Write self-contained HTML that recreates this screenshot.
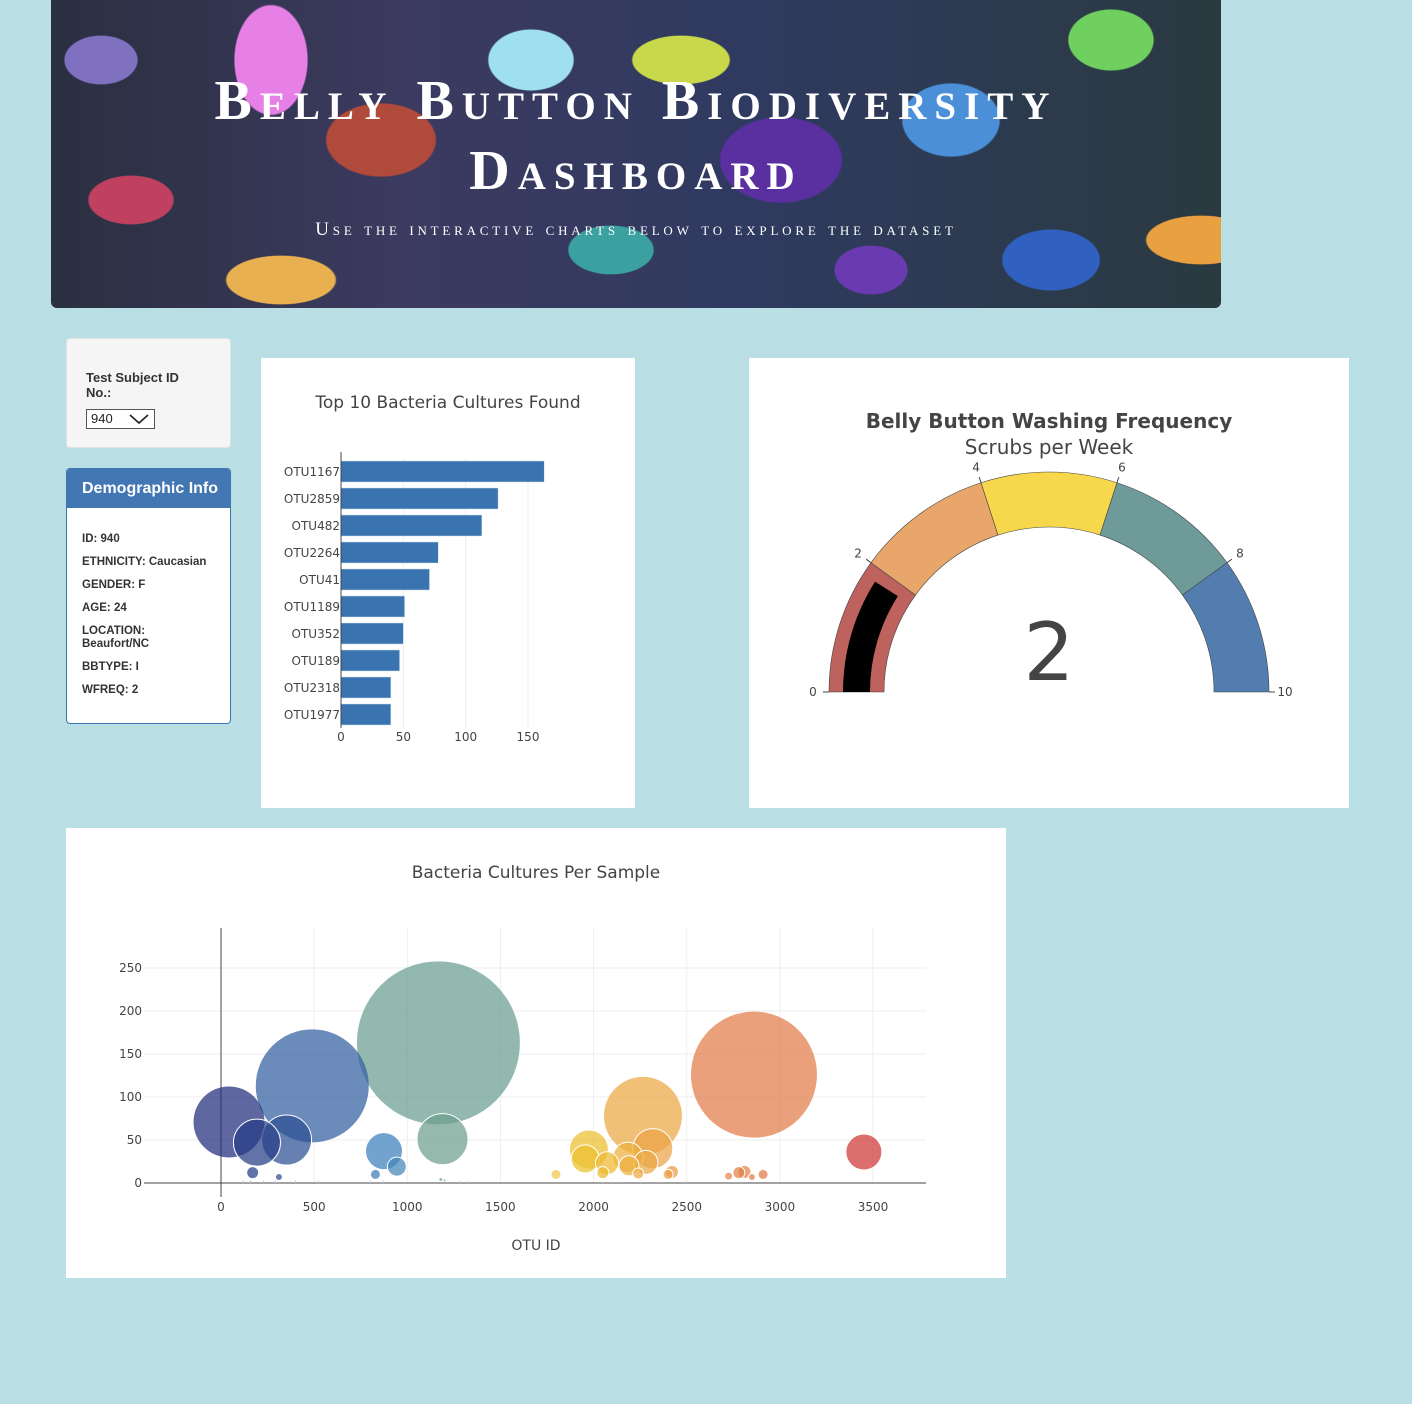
<!DOCTYPE html>
<html><head><meta charset="utf-8">
<style>
body{margin:0;width:1412px;height:1404px;background:#b9dfe4;font-family:"Liberation Sans",sans-serif;position:relative;overflow:hidden}
.abs{position:absolute}
#hdr{left:51px;top:0;width:1170px;height:308px;border-radius:0 0 6px 6px;overflow:hidden;
background:
radial-gradient(ellipse 60px 90px at 220px 60px,#e67fe6 60%,transparent 62%),
radial-gradient(ellipse 80px 40px at 630px 60px,#c9d84a 60%,transparent 62%),
radial-gradient(ellipse 70px 50px at 1060px 40px,#6fcf5f 60%,transparent 62%),
radial-gradient(ellipse 90px 60px at 330px 140px,#b04a3a 60%,transparent 62%),
radial-gradient(ellipse 100px 70px at 730px 160px,#5a2fa0 60%,transparent 62%),
radial-gradient(ellipse 70px 50px at 480px 60px,#9fe0f0 60%,transparent 62%),
radial-gradient(ellipse 80px 60px at 900px 120px,#4a8fd8 60%,transparent 62%),
radial-gradient(ellipse 90px 40px at 1150px 240px,#e8a040 60%,transparent 62%),
radial-gradient(ellipse 90px 40px at 230px 280px,#e8b050 60%,transparent 62%),
radial-gradient(ellipse 60px 40px at 50px 60px,#8070c0 60%,transparent 62%),
radial-gradient(ellipse 70px 40px at 80px 200px,#c04060 60%,transparent 62%),
radial-gradient(ellipse 80px 50px at 1000px 260px,#3060c0 60%,transparent 62%),
radial-gradient(ellipse 70px 40px at 560px 250px,#3aa0a0 60%,transparent 62%),
radial-gradient(ellipse 60px 40px at 820px 270px,#6a3ab0 60%,transparent 62%),
linear-gradient(90deg,#2a3040,#3c3a60 30%,#2f3a60 60%,#2a3a40);}
#hdr h1{margin:0;position:absolute;left:0;width:1170px;top:66px;text-align:center;color:#fff;font-family:"Liberation Serif",serif;font-variant:small-caps;font-size:56px;letter-spacing:8px;line-height:70px;font-weight:bold}
#hdr p{margin:0;position:absolute;left:0;width:1170px;top:219px;text-align:center;color:#fff;font-family:"Liberation Serif",serif;font-variant:small-caps;font-size:19px;letter-spacing:3.8px}
.card{background:#fff}
.t{font-family:"DejaVu Sans","Liberation Sans",sans-serif;fill:#444}
</style></head><body>
<div id="hdr" class="abs">
<h1>Belly Button Biodiversity<br>Dashboard</h1>
<p>Use the interactive charts below to explore the dataset</p>
</div>

<div class="abs" style="left:66px;top:338px;width:163px;height:108px;background:#f5f5f5;border:1px solid #e3e3e3;border-radius:4px">
<div style="position:absolute;left:19px;top:31px;font-size:13px;font-weight:bold;color:#333;line-height:15px">Test Subject ID<br>No.:</div>
<div style="position:absolute;left:19px;top:70px;border:1px solid #555;background:#fff;font-size:13px;line-height:18px;color:#222;padding-left:4px;box-sizing:border-box;width:69px;height:20px">940
<svg style="position:absolute;right:4px;top:3px" width="22" height="12"><path d="M2 2 L11 10 L20 2" stroke="#222" stroke-width="1.6" fill="none"/></svg></div>
</div>

<div class="abs" style="left:66px;top:468px;width:163px;height:254px;background:#fff;border:1px solid #3a76b0;border-radius:4px;overflow:hidden">
<div style="background:#4377b4;color:#fff;height:39px;font-size:16px;font-weight:bold;line-height:40px;padding-left:15px">Demographic Info</div>
<div style="position:absolute;left:15px;top:64px;font-size:11.5px;font-weight:bold;color:#333;line-height:13px">
<div style="margin-bottom:10px">ID: 940</div>
<div style="margin-bottom:10px">ETHNICITY: Caucasian</div>
<div style="margin-bottom:10px">GENDER: F</div>
<div style="margin-bottom:10px">AGE: 24</div>
<div style="margin-bottom:10px">LOCATION:<br>Beaufort/NC</div>
<div style="margin-bottom:10px">BBTYPE: I</div>
<div>WFREQ: 2</div></div>
</div>

<svg id="bar" class="abs card" style="left:261px;top:358px" width="374" height="450"></svg>
<svg id="gauge" class="abs card" style="left:749px;top:358px" width="600" height="450"></svg>
<svg id="bubble" class="abs card" style="left:66px;top:828px" width="940" height="450"></svg>

<script>
const NS="http://www.w3.org/2000/svg";
function mk(p,tag,at,txt){const e=document.createElementNS(NS,tag);for(const k in at)e.setAttribute(k,at[k]);if(txt!==undefined)e.textContent=txt;p.appendChild(e);return e;}

// ---- bar chart data
const barLabels=["OTU1167","OTU2859","OTU482","OTU2264","OTU41","OTU1189","OTU352","OTU189","OTU2318","OTU1977"];
const barValues=[163,126,113,78,71,51,50,47,40,40];
const barTicks=[0,50,100,150];

// ---- gauge data
const gaugeValue=2;
const gaugeSteps=[0,2,4,6,8,10];
const gaugeColors=["#bd625c","#e8a66a","#f7d74b","#6e9a9a","#527dae"];
const gaugeTicks=[0,2,4,6,8,10];

// ---- bubble data
const bubbleOtu=[43,490,1167,193,352,875,944,1189,170,311,829,1798,1975,1955,2072,2185,2190,2265,2281,2318,2050,2240,2421,2400,2861,2780,2810,2725,2850,2910,3451,
 120,160,230,290,400,520,800,870,1180,1200,1280,1330,2050,2100,2150,2250,2350,2490];
const bubbleVal=[71,113,163,47,50,37,19,51,12,7,10,10,39,28,23,30,20,78,24,40,12,11,13,10,126,12,13,8,7,10,36,
 2,2,2,2,2,2,2,2,4,3,2,2,2,2,2,2,2,2];
const bubbleXTicks=[0,500,1000,1500,2000,2500,3000,3500];
const bubbleYTicks=[0,50,100,150,200,250];

// bar chart
(function(){
 const s=document.getElementById('bar');
 mk(s,'text',{x:187,y:50,'text-anchor':'middle','font-size':17,class:'t',},"Top 10 Bacteria Cultures Found");
 const x0=80,sx=(528-341)/150,top=100,step=27;
 const X=v=>x0+v*sx;
 barTicks.forEach(t=>{
  if(t>0){const g=mk(s,'line',{x1:X(t),x2:X(t),y1:top,y2:top+270,stroke:'#eee'});}
  const l=mk(s,'text',{x:X(t),y:383,'text-anchor':'middle','font-size':12,class:'t'},t);
  
  
 });
 barLabels.forEach((lab,i)=>{
  const cy=top+i*step+13.5;
  const r=mk(s,'rect',{x:x0,y:cy-10.5,width:X(barValues[i])-x0,height:21,fill:'#3a74b0',stroke:'#cfe0ef','stroke-width':0.5});
  
  
  const t=mk(s,'text',{x:x0-1,y:cy+4.5,'text-anchor':'end','font-size':12,class:'t'},lab);
  
  
 });
 mk(s,'line',{x1:x0,x2:x0,y1:top-6,y2:top+270,stroke:'#444','stroke-width':1});
})();

// gauge
(function(){
 const s=document.getElementById('gauge');
 mk(s,'text',{x:300,y:70,'text-anchor':'middle','font-size':20,'font-weight':'bold',class:'t',},"Belly Button Washing Frequency");
 mk(s,'text',{x:300,y:96,'text-anchor':'middle','font-size':20,class:'t',},"Scrubs per Week");
 const cx=300,cy=334,R=220,r=165,max=10;
 const ang=v=>Math.PI*(1-v/max);
 const pt=(v,rad)=>[cx+rad*Math.cos(ang(v)),cy-rad*Math.sin(ang(v))];
 function arc(a,b,ro,ri){const p1=pt(a,ro),p2=pt(b,ro),p3=pt(b,ri),p4=pt(a,ri);
  return `M${p1[0]},${p1[1]} A${ro},${ro} 0 0 1 ${p2[0]},${p2[1]} L${p3[0]},${p3[1]} A${ri},${ri} 0 0 0 ${p4[0]},${p4[1]}Z`;}
 for(let i=0;i<gaugeColors.length;i++){
  const p=mk(s,'path',{d:arc(gaugeSteps[i],gaugeSteps[i+1],R,r),fill:gaugeColors[i],stroke:'#444','stroke-width':0.6});
  
  
 }
 const b=mk(s,'path',{d:arc(0,gaugeValue*0.9,R-14,r+14),fill:'#000'});
 
 
 gaugeTicks.forEach(t=>{
  const a=pt(t,R),c=pt(t,R+6),l=pt(t,R+16);
  mk(s,'line',{x1:a[0],y1:a[1],x2:c[0],y2:c[1],stroke:'#444'});
  const tx=mk(s,'text',{x:l[0],y:l[1]+4,'text-anchor':'middle','font-size':12,class:'t'},t);
  
  
 });
 mk(s,'text',{x:cx,y:cy-12,'text-anchor':'middle','font-size':80,class:'t',},gaugeValue);
})();

// bubble chart
(function(){
 const s=document.getElementById('bubble');
 mk(s,'text',{x:470,y:50,'text-anchor':'middle','font-size':17,class:'t',},"Bacteria Cultures Per Sample");
 const ox=221-66,sx=(873-221)/3500,oy=1183-828,sy=(1183-968)/250;
 const X=v=>ox+v*sx,Y=v=>oy-v*sy;
 const L=78,Rr=860,T=100;
 bubbleXTicks.forEach(t=>{
  mk(s,'line',{x1:X(t),x2:X(t),y1:T,y2:oy,stroke:'#eee'});
  const l=mk(s,'text',{x:X(t),y:oy+28,'text-anchor':'middle','font-size':12,class:'t'},t);
  
  
 });
 bubbleYTicks.forEach(t=>{
  mk(s,'line',{x1:L,x2:Rr,y1:Y(t),y2:Y(t),stroke:'#eee'});
  const l=mk(s,'text',{x:L-2,y:Y(t)+4,'text-anchor':'end','font-size':12,class:'t'},t);
  
  
 });
 mk(s,'line',{x1:X(0),x2:X(0),y1:T,y2:oy+14,stroke:'#444'});
 mk(s,'line',{x1:L,x2:Rr,y1:oy,y2:oy,stroke:'#444'});
 mk(s,'text',{x:470,y:422,'text-anchor':'middle','font-size':14,class:'t',},"OTU ID");
 const stops=[[0,[30,40,120]],[500,[50,95,160]],[900,[60,130,190]],[1200,[110,160,140]],[1800,[240,200,70]],[2000,[235,190,40]],[2300,[235,165,70]],[2900,[225,120,70]],[3500,[205,50,50]]];
 function col(o){for(let i=0;i<stops.length-1;i++){const [a,ca]=stops[i],[b,cb]=stops[i+1];if(o<=b){const f=(o-a)/(b-a);return 'rgb('+ca.map((c,k)=>Math.round(c+(cb[k]-c)*f)).join(',')+')';}}return 'rgb(205,50,50)';}
 const idx=bubbleVal.map((v,i)=>i).sort((a,b)=>bubbleVal[b]-bubbleVal[a]);
 idx.forEach(i=>{
  const c=mk(s,'circle',{cx:X(bubbleOtu[i]),cy:Y(bubbleVal[i]),r:Math.max(bubbleVal[i]/2,1),fill:col(bubbleOtu[i]),'fill-opacity':0.72,stroke:'#fff','stroke-width':bubbleVal[i]>60?0:1});
  
  
 });
})();
</script>
</body></html>
